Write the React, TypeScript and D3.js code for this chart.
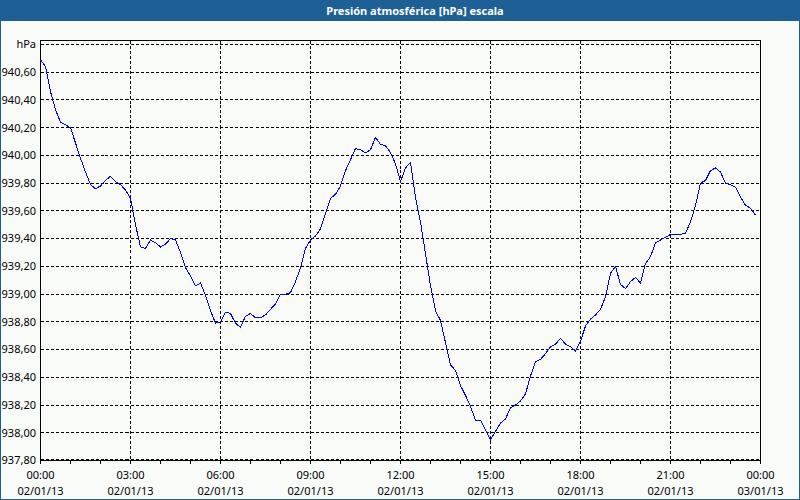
import React from "react";
import * as d3 from "d3";

const TITLE = "Presión atmosférica [hPa] escala";
const UNIT = "hPa";
const START = new Date(2013, 0, 2, 0, 0);
const END = new Date(2013, 0, 3, 0, 0);
const STEP_MINUTES = 10;
// pressure readings every 10 minutes, starting 02/01/13 00:00
const PRESSURE = [
  940.69, 940.64, 940.46, 940.33, 940.24, 940.22, 940.2, 940.09, 939.98, 939.88,
  939.79, 939.76, 939.78, 939.82, 939.85, 939.81, 939.79, 939.75, 939.69, 939.5,
  939.34, 939.33, 939.39, 939.37, 939.34, 939.36, 939.4, 939.39, 939.3, 939.19,
  939.13, 939.06, 939.08, 938.99, 938.88, 938.79, 938.8, 938.87, 938.86, 938.79,
  938.76, 938.84, 938.86, 938.83, 938.83, 938.85, 938.89, 938.93, 939.0, 939.0,
  939.01, 939.09, 939.19, 939.33, 939.39, 939.42, 939.47, 939.58, 939.69, 939.72,
  939.78, 939.89, 939.97, 940.05, 940.04, 940.02, 940.04, 940.13, 940.08, 940.07,
  940.02, 939.94, 939.81, 939.91, 939.95, 939.7, 939.52, 939.29, 939.06, 938.88,
  938.81, 938.65, 938.49, 938.45, 938.34, 938.27, 938.19, 938.09, 938.09, 938.02,
  937.95, 938.01, 938.07, 938.1, 938.18, 938.2, 938.23, 938.28, 938.41, 938.51,
  938.53, 938.57, 938.62, 938.64, 938.68, 938.64, 938.62, 938.59, 938.66, 938.77,
  938.82, 938.85, 938.89, 938.98, 939.15, 939.2, 939.07, 939.04, 939.09, 939.12,
  939.08, 939.22, 939.27, 939.37, 939.39, 939.41, 939.43, 939.43, 939.43, 939.44,
  939.52, 939.64, 939.8, 939.82, 939.89, 939.91, 939.88, 939.8, 939.79, 939.77,
  939.7, 939.64, 939.62, 939.57,
];
const Y_TICKS = [937.8, 938.0, 938.2, 938.4, 938.6, 938.8, 939.0, 939.2, 939.4, 939.6, 939.8, 940.0, 940.2, 940.4, 940.6];
const Y_TOP = 940.8;

const W = 800;
const H = 500;
const FONT = "'Noto Sans', 'DejaVu Sans', sans-serif";

export default function App() {
  const left = 40.5, right = 760.5, top = 40.5, bottom = 460.5;
  const x = d3.scaleTime().domain([START, END]).range([left, right]);
  const y = d3.scaleLinear().domain([Y_TICKS[0], Y_TOP]).range([bottom, 44.5]);

  const data = PRESSURE.map((v, i) => ({
    t: new Date(START.getTime() + i * STEP_MINUTES * 60000),
    v,
  }));
  const line = d3
    .line<{ t: Date; v: number }>()
    .x((d) => x(d.t))
    .y((d) => y(d.v));

  const majorTicks = d3.timeHour.every(3)!.range(START, new Date(END.getTime() + 1));
  const minorTicks = d3.timeHour.every(1)!.range(START, new Date(END.getTime() + 1));
  const fTime = d3.timeFormat("%H:%M");
  const fDate = d3.timeFormat("%d/%m/%y");
  const fVal = (v: number) => v.toFixed(2).replace(".", ",");

  const snap = (p: number) => Math.round(p - 0.5) + 0.5;

  return (
    <svg
      width={W}
      height={H}
      style={{ position: "fixed", left: 0, top: 0, display: "block" }}
      fontFamily={FONT}
    >
      <rect x={0} y={0} width={W} height={H} fill="#f8fbf8" />
      <rect x={0} y={0} width={W} height={21} fill="#1e6096" />
      <rect x={0.5} y={0.5} width={W - 1} height={H - 1} fill="none" stroke="#1e6096" strokeWidth={1} />
      <text x={415} y={14.5} textAnchor="middle" fill="#ffffff" fontSize={11} fontWeight="bold">
        {TITLE}
      </text>

      {/* horizontal grid */}
      {[...Y_TICKS.slice(1), Y_TOP].map((v) => (
        <line
          key={"h" + v}
          x1={left}
          x2={right}
          y1={snap(y(v))}
          y2={snap(y(v))}
          stroke="#000"
          strokeDasharray="3,2"
          shapeRendering="crispEdges"
        />
      ))}
      <line x1={left} x2={right} y1={bottom - 1} y2={bottom - 1} stroke="#000" strokeDasharray="3,2" shapeRendering="crispEdges" />
      {/* vertical grid */}
      {majorTicks.slice(1, -1).map((t) => (
        <line
          key={"v" + t.getTime()}
          x1={snap(x(t))}
          x2={snap(x(t))}
          y1={top}
          y2={bottom}
          stroke="#000"
          strokeDasharray="3,2"
          shapeRendering="crispEdges"
        />
      ))}

      {/* frame */}
      <rect x={left} y={top} width={right - left} height={bottom - top} fill="none" stroke="#000" shapeRendering="crispEdges" />

      {/* hourly ticks */}
      {minorTicks.map((t) => (
        <line
          key={"m" + t.getTime()}
          x1={snap(x(t))}
          x2={snap(x(t))}
          y1={bottom}
          y2={bottom + 3}
          stroke="#000"
          shapeRendering="crispEdges"
        />
      ))}

      {/* y labels */}
      {Y_TICKS.map((v) => (
        <text key={"yl" + v} x={36} y={y(v)} dy="0.35em" textAnchor="end" fontSize={11} fill="#000">
          {fVal(v)}
        </text>
      ))}
      <text x={36} y={y(Y_TOP)} dy="0.35em" textAnchor="end" fontSize={11} fill="#000">
        {UNIT}
      </text>

      {/* x labels */}
      {majorTicks.map((t) => (
        <g key={"xl" + t.getTime()}>
          <text x={x(t)} y={479} textAnchor="middle" fontSize={11} fill="#000">
            {fTime(t)}
          </text>
          <text x={x(t)} y={495} textAnchor="middle" fontSize={11} fill="#000">
            {fDate(t)}
          </text>
        </g>
      ))}

      <path d={line(data) || ""} fill="none" stroke="#0000ff" strokeWidth={1} shapeRendering="crispEdges" />
    </svg>
  );
}
